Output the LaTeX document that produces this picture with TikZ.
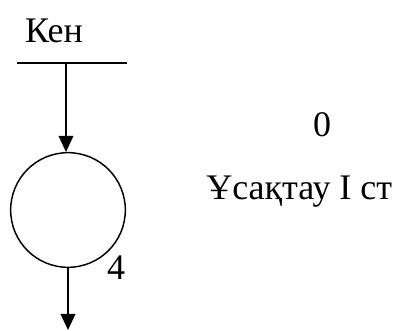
\documentclass[tikz,border=0pt]{standalone}
\usepackage{fontspec}
\setmainfont{Liberation Serif}
\usetikzlibrary{arrows.meta}
\begin{document}
\begin{tikzpicture}[x=0.75pt,y=-0.75pt,
  line/.style={line width=1.1pt,black},
  arr/.style={line, -{Triangle[length=12pt,width=11pt]}},
  lbl/.style={font=\fontsize{27}{31}\selectfont, inner sep=0pt},
  unit/.style={circle, draw, line width=1.1pt, minimum size=86pt, inner sep=0pt}]
\useasboundingbox (0,0) rectangle (400,331);
\node[lbl] (ken) at (54,31) {Кен};
\coordinate (hl) at (17,63);
\coordinate (hr) at (127,63);
\draw[line] (hl) -- (hr);
\coordinate (top) at (66,63);
\node[unit] (c) at (68,210) {};
\draw[arr] (top) -- (c.north -| top);
\coordinate (out) at (68,330);
\draw[arr] (c.south) -- (out);
\node[lbl] (four) at (116,268) {4};
\node[lbl] (zero) at (322,125) {0};
\node[lbl, anchor=west] (name) at (206,192) {Ұсақтау І ст};
\end{tikzpicture}
\end{document}
